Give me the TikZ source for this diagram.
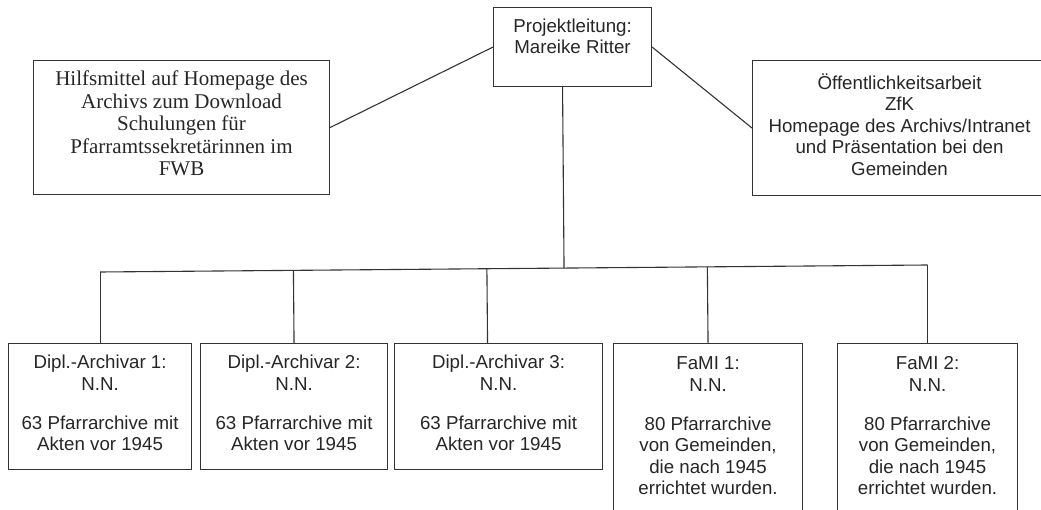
\documentclass[tikz,border=0pt]{standalone}
\usepackage{fontspec}
\setmainfont{Liberation Sans}
\newfontfamily\serifface{Liberation Serif}
\usetikzlibrary{calc}
\newcommand{\liftup}{\\[-14pt]~}
\begin{document}
\begin{tikzpicture}[x=1pt,y=-1pt,
  box/.style={draw=black!80, line width=1.1pt, anchor=north west, inner sep=0pt,
    align=center, text=black!85, font=\fontsize{18.7}{21.5}\selectfont},
  sbox/.style={box, font=\serifface\fontsize{21}{22.5}\selectfont},
  link/.style={draw=black!80, line width=1.1pt}]
\useasboundingbox (0,0) rectangle (1041,510);
\clip (0,0) rectangle (1041,510);
% top row
\node[box, minimum width=158, minimum height=79] (top) at (493,7)
  {Projektleitung:\\Mareike Ritter\\~};
\node[sbox, minimum width=296, minimum height=134] (lbox) at (33,60)
  {Hilfsmittel auf Homepage des\\Archivs zum Download\\Schulungen für\\Pfarramtssekretärinnen im\\FWB\liftup};
\node[box, minimum width=294, minimum height=135] (rbox) at (752,60)
  {Öffentlichkeitsarbeit\\ZfK\\Homepage des Archivs/Intranet\\und Präsentation bei den\\Gemeinden\liftup};
% bottom row
\node[box, minimum width=183, minimum height=126] (b1) at (8,343)
  {Dipl.-Archivar 1:\\N.N.\\[17.5pt]63 Pfarrarchive mit\\Akten vor 1945\liftup};
\node[box, minimum width=187, minimum height=126] (b2) at (200,343)
  {Dipl.-Archivar 2:\\N.N.\\[17.5pt]63 Pfarrarchive mit\\Akten vor 1945\liftup};
\node[box, minimum width=208, minimum height=126] (b3) at (394,343)
  {Dipl.-Archivar 3:\\N.N.\\[17.5pt]63 Pfarrarchive mit\\Akten vor 1945\liftup};
\node[box, minimum width=189, minimum height=186] (f1) at (613,343)
  {FaMI 1:\\N.N.\\[17.5pt]80 Pfarrarchive\\von Gemeinden,\\die nach 1945\\errichtet wurden.\\~};
\node[box, minimum width=180, minimum height=186] (f2) at (837,343)
  {FaMI 2:\\N.N.\\[17.5pt]80 Pfarrarchive\\von Gemeinden,\\die nach 1945\\errichtet wurden.\\~};
% connectors
\draw[link] (lbox.east) -- (top.west);
\draw[link] (top.east) -- (rbox.west);
\coordinate (barL) at ($(b1.north)+(0,-71)$);
\coordinate (barR) at ($(f2.north)+(0,-78)$);
\draw[link] (barL) -- (barR);
\draw[link] ([xshift=-10pt]top.south) -- ($(barL)!([xshift=-10pt]top.south)!(barR)$);
\draw[link] (b1.north) -- (barL);
\draw[link] (b2.north) -- ($(barL)!(b2.north)!(barR)$);
\draw[link] ([xshift=-11pt]b3.north) -- ($(barL)!([xshift=-11pt]b3.north)!(barR)$);
\draw[link] (f1.north) -- ($(barL)!(f1.north)!(barR)$);
\draw[link] (f2.north) -- (barR);
\end{tikzpicture}
\end{document}
